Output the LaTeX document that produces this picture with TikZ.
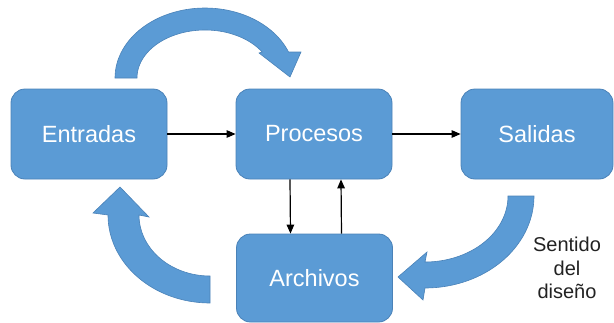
\documentclass[tikz,border=0pt]{standalone}
\usepackage{fontspec}
\setmainfont{Liberation Sans}
\usetikzlibrary{arrows.meta}
\definecolor{blockblue}{HTML}{5B9BD5}
\definecolor{blockedge}{HTML}{4A82B8}
\definecolor{labelgray}{HTML}{222222}

\begin{document}
\begin{tikzpicture}[x=1pt,y=-1pt,
  block/.style={draw=blockedge, line width=0.8pt, fill=blockblue, rounded corners=14pt,
    minimum width=156pt, minimum height=90pt, inner sep=0pt, text=white,
    font=\fontsize{23.5}{28}\selectfont},
  link/.style={line width=1.2pt, -{Triangle[length=9pt,width=7.5pt]}},
  curvearrow/.style={fill=blockblue, draw=blockedge, line width=0.6pt, line join=miter}]

\useasboundingbox (0,0) rectangle (614,322);

% process blocks
\node[block] (ent) at (89,134) {Entradas};
\node[block] (pro) at (314,134) {Procesos};
\node[block, minimum width=152pt] (sal) at (537,134) {Salidas};
\node[block, minimum height=88pt] (arch) at (314.5,278) {Archivos};

% straight connectors
\draw[link] (ent) -- (pro);
\draw[link] (pro) -- (sal);
\draw[link] ([xshift=-24pt]pro.south) -- ([xshift=-24pt]arch.north);
\draw[link] ([xshift=27pt]arch.north) -- ([xshift=27pt]pro.south);

% curved block arrow over the top
\filldraw[curvearrow] (115,78)
  -- plot[domain=180:338.2, samples=60] ({205+90*cos(\x)},{78+70*sin(\x)})
  -- (301,52) -- (290,77) -- (259,53)
  -- plot[domain=327.2:180, samples=60] ({205+68*cos(\x)},{78+48*sin(\x)})
  -- cycle;

% curved block arrow on the lower left
\filldraw[curvearrow]
  plot[domain=90:180, samples=50] ({210+102*cos(\x)},{215+88*sin(\x)})
  -- (93,213) -- (120,187) -- (149,217)
  -- plot[domain=180:90, samples=50] ({210+71*cos(\x)},{215+61*sin(\x)})
  -- cycle;

% curved block arrow on the lower right
\filldraw[curvearrow]
  plot[domain=0:90, samples=50] ({425+109*cos(\x)},{196+92*sin(\x)})
  -- (423,300) -- (398,277) -- (427,252)
  -- plot[domain=90:0, samples=50] ({425+83*cos(\x)},{196+66*sin(\x)})
  -- cycle;

% caption
\node[font=\fontsize{20}{23.5}\selectfont, text=labelgray, align=center] (sense) at (567,268) {Sentido\\del\\diseño};

\end{tikzpicture}
\end{document}
